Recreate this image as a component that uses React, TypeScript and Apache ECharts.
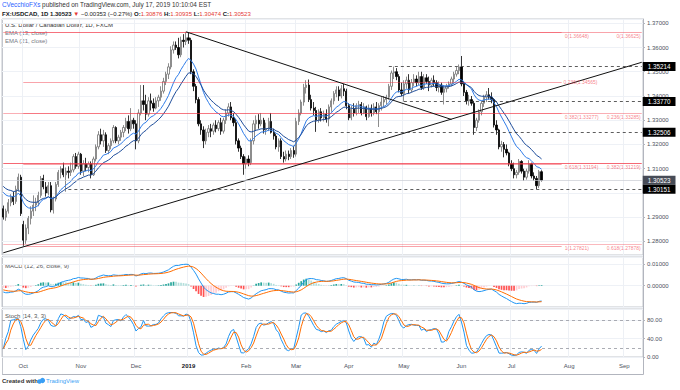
import React, { useEffect, useRef } from "react";
import * as echarts from "echarts";

const FONT = "'Liberation Sans', Arial, sans-serif";

// date, open, high, low, close
const candles: [string, number, number, number, number][] = [
  ["2018-09-19", 1.2935, 1.2948, 1.289, 1.29],
  ["2018-09-20", 1.29, 1.2935, 1.2885, 1.2925],
  ["2018-09-21", 1.2925, 1.2975, 1.2915, 1.296],
  ["2018-09-24", 1.296, 1.2995, 1.2945, 1.2985],
  ["2018-09-25", 1.2985, 1.3005, 1.295, 1.2965],
  ["2018-09-26", 1.2965, 1.303, 1.2955, 1.3015],
  ["2018-09-27", 1.3015, 1.308, 1.3005, 1.3065],
  ["2018-09-28", 1.3065, 1.3075, 1.2905, 1.2915],
  ["2018-10-01", 1.287, 1.2885, 1.27821, 1.2805],
  ["2018-10-02", 1.2805, 1.287, 1.279, 1.2855],
  ["2018-10-03", 1.2855, 1.2905, 1.283, 1.2895],
  ["2018-10-04", 1.2895, 1.2945, 1.287, 1.2925],
  ["2018-10-05", 1.2925, 1.299, 1.2905, 1.295],
  ["2018-10-08", 1.295, 1.298, 1.2925, 1.296],
  ["2018-10-09", 1.296, 1.3005, 1.2945, 1.299],
  ["2018-10-10", 1.299, 1.307, 1.298, 1.306],
  ["2018-10-11", 1.306, 1.3075, 1.3015, 1.3025],
  ["2018-10-12", 1.3025, 1.3045, 1.2985, 1.3],
  ["2018-10-15", 1.3, 1.3045, 1.299, 1.303],
  ["2018-10-16", 1.303, 1.3045, 1.292, 1.293],
  ["2018-10-17", 1.293, 1.2985, 1.2915, 1.2975],
  ["2018-10-18", 1.2975, 1.3045, 1.2965, 1.3035],
  ["2018-10-19", 1.3035, 1.3095, 1.3025, 1.3085],
  ["2018-10-22", 1.3085, 1.311, 1.306, 1.31],
  ["2018-10-23", 1.31, 1.3125, 1.3065, 1.3075],
  ["2018-10-24", 1.3075, 1.3105, 1.3005, 1.309],
  ["2018-10-25", 1.309, 1.311, 1.306, 1.3085],
  ["2018-10-26", 1.3085, 1.3125, 1.307, 1.3095],
  ["2018-10-29", 1.3095, 1.316, 1.3085, 1.315],
  ["2018-10-30", 1.315, 1.3165, 1.31, 1.311],
  ["2018-10-31", 1.311, 1.317, 1.31, 1.316],
  ["2018-11-01", 1.316, 1.3165, 1.3075, 1.309],
  ["2018-11-02", 1.309, 1.3135, 1.307, 1.312],
  ["2018-11-05", 1.312, 1.3145, 1.309, 1.3105],
  ["2018-11-06", 1.3105, 1.313, 1.3085, 1.312],
  ["2018-11-07", 1.312, 1.313, 1.306, 1.3075],
  ["2018-11-08", 1.3075, 1.315, 1.307, 1.314],
  ["2018-11-09", 1.314, 1.32, 1.313, 1.319],
  ["2018-11-12", 1.319, 1.3255, 1.318, 1.324],
  ["2018-11-13", 1.324, 1.3265, 1.32, 1.3215],
  ["2018-11-14", 1.3215, 1.326, 1.319, 1.324],
  ["2018-11-15", 1.324, 1.325, 1.3165, 1.3175],
  ["2018-11-16", 1.3175, 1.3205, 1.316, 1.3195],
  ["2018-11-19", 1.3195, 1.3225, 1.318, 1.3215],
  ["2018-11-20", 1.3215, 1.328, 1.3205, 1.327],
  ["2018-11-21", 1.327, 1.3275, 1.3205, 1.3215],
  ["2018-11-22", 1.3215, 1.324, 1.32, 1.323],
  ["2018-11-23", 1.323, 1.326, 1.3215, 1.325],
  ["2018-11-26", 1.325, 1.328, 1.323, 1.327],
  ["2018-11-27", 1.327, 1.331, 1.3255, 1.3295],
  ["2018-11-28", 1.3295, 1.332, 1.3245, 1.3265],
  ["2018-11-29", 1.3265, 1.335, 1.3255, 1.33],
  ["2018-11-30", 1.33, 1.331, 1.3265, 1.3285],
  ["2018-12-03", 1.3285, 1.33, 1.318, 1.3215],
  ["2018-12-04", 1.3215, 1.3345, 1.3205, 1.333],
  ["2018-12-05", 1.333, 1.3445, 1.332, 1.338],
  ["2018-12-06", 1.338, 1.3445, 1.334, 1.3365],
  ["2018-12-07", 1.3365, 1.3405, 1.33, 1.3325],
  ["2018-12-10", 1.3325, 1.3395, 1.3315, 1.338],
  ["2018-12-11", 1.338, 1.341, 1.334, 1.337],
  ["2018-12-12", 1.337, 1.339, 1.3335, 1.335],
  ["2018-12-13", 1.335, 1.3395, 1.3345, 1.338],
  ["2018-12-14", 1.338, 1.3405, 1.3355, 1.3395],
  ["2018-12-17", 1.3395, 1.344, 1.338, 1.342],
  ["2018-12-18", 1.342, 1.3475, 1.341, 1.346],
  ["2018-12-19", 1.346, 1.35, 1.3445, 1.349],
  ["2018-12-20", 1.349, 1.3535, 1.347, 1.352],
  ["2018-12-21", 1.352, 1.3605, 1.351, 1.359],
  ["2018-12-24", 1.359, 1.3625, 1.3575, 1.361],
  ["2018-12-25", 1.361, 1.3625, 1.359, 1.36],
  ["2018-12-26", 1.36, 1.364, 1.3555, 1.357],
  ["2018-12-27", 1.357, 1.3645, 1.356, 1.363],
  ["2018-12-28", 1.363, 1.3655, 1.36, 1.3625],
  ["2018-12-31", 1.3625, 1.36648, 1.361, 1.364],
  ["2019-01-01", 1.364, 1.366, 1.3615, 1.363],
  ["2019-01-02", 1.363, 1.364, 1.349, 1.35],
  ["2019-01-03", 1.35, 1.351, 1.342, 1.344],
  ["2019-01-04", 1.344, 1.345, 1.337, 1.3385],
  ["2019-01-07", 1.3385, 1.3395, 1.3275, 1.3285],
  ["2019-01-08", 1.3285, 1.33, 1.324, 1.326],
  ["2019-01-09", 1.326, 1.3275, 1.3185, 1.3215],
  ["2019-01-10", 1.3215, 1.3265, 1.32, 1.325],
  ["2019-01-11", 1.325, 1.328, 1.323, 1.3265],
  ["2019-01-14", 1.3265, 1.3285, 1.323, 1.3255],
  ["2019-01-15", 1.3255, 1.329, 1.324, 1.328],
  ["2019-01-16", 1.328, 1.33, 1.325, 1.3265],
  ["2019-01-17", 1.3265, 1.33, 1.3255, 1.329],
  ["2019-01-18", 1.329, 1.331, 1.324, 1.3255],
  ["2019-01-21", 1.3255, 1.331, 1.3245, 1.33],
  ["2019-01-22", 1.33, 1.3345, 1.3285, 1.333],
  ["2019-01-23", 1.333, 1.337, 1.3315, 1.3355],
  ["2019-01-24", 1.3355, 1.3375, 1.33, 1.331],
  ["2019-01-25", 1.331, 1.333, 1.3275, 1.329],
  ["2019-01-28", 1.329, 1.3305, 1.32, 1.3215],
  ["2019-01-29", 1.3215, 1.3225, 1.317, 1.3185],
  ["2019-01-30", 1.3185, 1.3195, 1.314, 1.315],
  ["2019-01-31", 1.315, 1.316, 1.3075, 1.312],
  ["2019-02-01", 1.312, 1.315, 1.31, 1.314],
  ["2019-02-04", 1.314, 1.3155, 1.311, 1.3125],
  ["2019-02-05", 1.3125, 1.3225, 1.3115, 1.3215],
  ["2019-02-06", 1.3215, 1.33, 1.32, 1.3285],
  ["2019-02-07", 1.3285, 1.332, 1.3255, 1.33],
  ["2019-02-08", 1.33, 1.3325, 1.3265, 1.3285],
  ["2019-02-11", 1.3285, 1.333, 1.3275, 1.33],
  ["2019-02-12", 1.33, 1.331, 1.3245, 1.326],
  ["2019-02-13", 1.326, 1.329, 1.324, 1.3265],
  ["2019-02-14", 1.3265, 1.331, 1.3255, 1.3295],
  ["2019-02-15", 1.3295, 1.333, 1.3245, 1.325],
  ["2019-02-18", 1.325, 1.3265, 1.322, 1.3235],
  ["2019-02-19", 1.3235, 1.3245, 1.318, 1.319],
  ["2019-02-20", 1.319, 1.3225, 1.317, 1.3215],
  ["2019-02-21", 1.3215, 1.3225, 1.314, 1.315],
  ["2019-02-22", 1.315, 1.317, 1.3125, 1.314],
  ["2019-02-25", 1.314, 1.3175, 1.313, 1.316],
  ["2019-02-26", 1.316, 1.3175, 1.3135, 1.315],
  ["2019-02-27", 1.315, 1.3185, 1.314, 1.3175],
  ["2019-02-28", 1.3175, 1.3195, 1.3145, 1.316],
  ["2019-03-01", 1.316, 1.331, 1.315, 1.3295],
  ["2019-03-04", 1.3295, 1.3345, 1.328, 1.333],
  ["2019-03-05", 1.333, 1.3385, 1.332, 1.3375],
  ["2019-03-06", 1.3375, 1.345, 1.336, 1.3435],
  ["2019-03-07", 1.3435, 1.3465, 1.341, 1.3445],
  ["2019-03-08", 1.3445, 1.3468, 1.3375, 1.3385],
  ["2019-03-11", 1.3385, 1.3405, 1.334, 1.335],
  ["2019-03-12", 1.335, 1.3375, 1.332, 1.334],
  ["2019-03-13", 1.334, 1.3355, 1.3252, 1.33],
  ["2019-03-14", 1.33, 1.3345, 1.329, 1.3335],
  ["2019-03-15", 1.3335, 1.335, 1.3295, 1.331],
  ["2019-03-18", 1.331, 1.334, 1.3295, 1.3325],
  ["2019-03-19", 1.3325, 1.3345, 1.329, 1.3305],
  ["2019-03-20", 1.3305, 1.3365, 1.3275, 1.3355],
  ["2019-03-21", 1.3355, 1.339, 1.3335, 1.338],
  ["2019-03-22", 1.338, 1.342, 1.3365, 1.341],
  ["2019-03-25", 1.341, 1.344, 1.3395, 1.3425],
  ["2019-03-26", 1.3425, 1.344, 1.338, 1.34],
  ["2019-03-27", 1.34, 1.3445, 1.339, 1.343],
  ["2019-03-28", 1.343, 1.345, 1.34, 1.342],
  ["2019-03-29", 1.342, 1.343, 1.3345, 1.336],
  ["2019-04-01", 1.336, 1.337, 1.33, 1.331],
  ["2019-04-02", 1.331, 1.336, 1.33, 1.3345],
  ["2019-04-03", 1.3345, 1.337, 1.3315, 1.333],
  ["2019-04-04", 1.333, 1.337, 1.332, 1.336],
  ["2019-04-05", 1.336, 1.338, 1.333, 1.3365],
  ["2019-04-08", 1.3365, 1.3375, 1.332, 1.333],
  ["2019-04-09", 1.333, 1.337, 1.3325, 1.3355],
  ["2019-04-10", 1.3355, 1.336, 1.33, 1.3315],
  ["2019-04-11", 1.3315, 1.3365, 1.331, 1.335],
  ["2019-04-12", 1.335, 1.3365, 1.3315, 1.333],
  ["2019-04-15", 1.333, 1.337, 1.332, 1.3355],
  ["2019-04-16", 1.3355, 1.3375, 1.3325, 1.3335],
  ["2019-04-17", 1.3335, 1.337, 1.3272, 1.336],
  ["2019-04-18", 1.336, 1.3395, 1.334, 1.3375],
  ["2019-04-19", 1.3375, 1.34, 1.3355, 1.3385],
  ["2019-04-22", 1.3385, 1.3405, 1.3365, 1.3395],
  ["2019-04-23", 1.3395, 1.345, 1.3385, 1.344],
  ["2019-04-24", 1.344, 1.3505, 1.3425, 1.3495],
  ["2019-04-25", 1.3495, 1.35214, 1.347, 1.35],
  ["2019-04-26", 1.35, 1.3515, 1.3465, 1.348],
  ["2019-04-29", 1.348, 1.349, 1.3415, 1.3425],
  ["2019-04-30", 1.3425, 1.3455, 1.34, 1.341],
  ["2019-05-01", 1.341, 1.3465, 1.3377, 1.345],
  ["2019-05-02", 1.345, 1.348, 1.343, 1.3465],
  ["2019-05-03", 1.3465, 1.349, 1.341, 1.3425],
  ["2019-05-06", 1.3425, 1.347, 1.3415, 1.3455],
  ["2019-05-07", 1.3455, 1.349, 1.344, 1.347],
  ["2019-05-08", 1.347, 1.3485, 1.344, 1.3455],
  ["2019-05-09", 1.3455, 1.35, 1.3445, 1.348],
  ["2019-05-10", 1.348, 1.35, 1.3425, 1.3435],
  ["2019-05-13", 1.3435, 1.349, 1.3425, 1.3475],
  ["2019-05-14", 1.3475, 1.349, 1.345, 1.346],
  ["2019-05-15", 1.346, 1.348, 1.342, 1.3445],
  ["2019-05-16", 1.3445, 1.3475, 1.3435, 1.3465],
  ["2019-05-17", 1.3465, 1.3485, 1.344, 1.3455],
  ["2019-05-20", 1.3455, 1.3465, 1.342, 1.3435],
  ["2019-05-21", 1.3435, 1.346, 1.3415, 1.3445],
  ["2019-05-22", 1.3445, 1.3455, 1.3405, 1.3415],
  ["2019-05-23", 1.3415, 1.3445, 1.3365, 1.343],
  ["2019-05-24", 1.343, 1.345, 1.3415, 1.344],
  ["2019-05-27", 1.344, 1.346, 1.343, 1.345],
  ["2019-05-28", 1.345, 1.348, 1.344, 1.347],
  ["2019-05-29", 1.347, 1.35, 1.3455, 1.349],
  ["2019-05-30", 1.349, 1.352, 1.348, 1.3505],
  ["2019-05-31", 1.3505, 1.353, 1.349, 1.352],
  ["2019-06-03", 1.352, 1.3565, 1.344, 1.345],
  ["2019-06-04", 1.345, 1.346, 1.34, 1.3415],
  ["2019-06-05", 1.3415, 1.3425, 1.3365, 1.338],
  ["2019-06-06", 1.338, 1.3405, 1.336, 1.3385],
  ["2019-06-07", 1.3385, 1.34, 1.336, 1.337],
  ["2019-06-10", 1.337, 1.338, 1.324, 1.327],
  ["2019-06-11", 1.327, 1.331, 1.3255, 1.33],
  ["2019-06-12", 1.33, 1.3345, 1.329, 1.3335],
  ["2019-06-13", 1.3335, 1.338, 1.332, 1.337],
  ["2019-06-14", 1.337, 1.3405, 1.3355, 1.3395],
  ["2019-06-17", 1.3395, 1.342, 1.3375, 1.3405],
  ["2019-06-18", 1.3405, 1.3433, 1.3385, 1.3395],
  ["2019-06-19", 1.3395, 1.3415, 1.337, 1.3385],
  ["2019-06-20", 1.3385, 1.339, 1.327, 1.328],
  ["2019-06-21", 1.328, 1.33, 1.324, 1.326],
  ["2019-06-24", 1.326, 1.3265, 1.318, 1.319],
  ["2019-06-25", 1.319, 1.3215, 1.317, 1.32],
  ["2019-06-26", 1.32, 1.321, 1.3147, 1.318],
  ["2019-06-27", 1.318, 1.32, 1.3155, 1.3165],
  ["2019-06-28", 1.3165, 1.317, 1.311, 1.312],
  ["2019-07-01", 1.312, 1.3135, 1.309, 1.31],
  ["2019-07-02", 1.31, 1.3125, 1.306, 1.3075],
  ["2019-07-03", 1.3075, 1.3095, 1.306, 1.3085],
  ["2019-07-04", 1.3085, 1.314, 1.3075, 1.313],
  ["2019-07-05", 1.313, 1.3135, 1.308, 1.309],
  ["2019-07-08", 1.309, 1.31, 1.305, 1.3065],
  ["2019-07-09", 1.3065, 1.31, 1.3055, 1.309],
  ["2019-07-10", 1.309, 1.3135, 1.308, 1.312],
  ["2019-07-11", 1.312, 1.3125, 1.306, 1.307],
  ["2019-07-12", 1.307, 1.3085, 1.305, 1.306],
  ["2019-07-15", 1.306, 1.307, 1.30151, 1.303],
  ["2019-07-16", 1.303, 1.3095, 1.302, 1.30876],
  ["2019-07-17", 1.30876, 1.30935, 1.30474, 1.30523],
];

const axisStart = "2018-09-19";
const axisEnd = "2019-09-11";
const monthStarts = ["2018-10-01", "2018-11-01", "2018-12-03", "2019-01-01", "2019-02-01", "2019-03-01", "2019-04-01", "2019-05-01", "2019-06-03", "2019-07-01", "2019-08-01", "2019-09-02"];
const monthLabels = ["Oct", "Nov", "Dec", "2019", "Feb", "Mar", "Apr", "May", "Jun", "Jul", "Aug", "Sep"];

const ema13Seed = 1.302;
const ema21Seed = 1.304;
const macdFastSeed = 1.3015;
const macdSlowSeed = 1.3037;
const macdSignalSeed = -0.0017;

const levelPrices = [1.35214, 1.3377, 1.32506, 1.30151];
const levelStarts = ["2019-04-23", "2019-05-01", "2019-03-20", "2018-10-25"];
const lastClose = 1.30523;

const fibAPrices = [1.36648, 1.34565, 1.33277, 1.31194, 1.27821];
const fibALabels = ["0(1.36648)", "0.236(1.34565)", "0.382(1.33277)", "0.618(1.31194)", "1(1.27821)"];
const fibARange = ["2018-10-01", "2019-07-29"];
const fibBPrices = [1.36625, 1.33285, 1.31219, 1.27878];
const fibBLabels = ["0(1.36625)", "0.236(1.33285)", "0.382(1.31219)", "0.618(1.27878)"];
const fibBPairLabels = ["0(1.36648)", "0.382(1.33277)", "0.618(1.31194)", "1(1.27821)"];
const fibBAlpha = [0.45, 0.4, 0.75, 0.35];
const fibBRange = ["2018-09-19", "2019-09-11"];

const trendUpDates = ["2018-09-19", "2019-09-11"];
const trendUpPrices = [1.2753, 1.3539];
const trendDownDates = ["2018-12-31", "2019-05-28"];
const trendDownPrices = [1.36648, 1.3303];
const stochLevels = [80, 20];

function weekdays(start: string, end: string): string[] {
  const out: string[] = [];
  const d = new Date(start + "T00:00:00Z");
  const e = new Date(end + "T00:00:00Z");
  while (d <= e) {
    const w = d.getUTCDay();
    if (w !== 0 && w !== 6) out.push(d.toISOString().slice(0, 10));
    d.setUTCDate(d.getUTCDate() + 1);
  }
  return out;
}

function ema(values: number[], n: number, seed: number): number[] {
  const k = 2 / (n + 1);
  let e = seed;
  return values.map((v) => (e = e + k * (v - e)));
}

function sma(values: number[], n: number): number[] {
  return values.map((_, i) => {
    const s = values.slice(Math.max(0, i - n + 1), i + 1);
    return s.reduce((a, b) => a + b, 0) / s.length;
  });
}

export default function App() {
  const ref = useRef<HTMLDivElement>(null);

  useEffect(() => {
    if (!ref.current) return;
    const chart = echarts.init(ref.current, undefined, { renderer: "svg" });

    const categories = weekdays(axisStart, axisEnd);
    const idx = (d: string) => categories.indexOf(d);
    const candleData: any[] = categories.map(() => "-");
    candles.forEach((r) => {
      candleData[idx(r[0])] = [r[1], r[4], r[3], r[2]];
    });
    const lastIdx = idx(candles[candles.length - 1][0]);
    const used = candleData.slice(0, lastIdx + 1);

    const closes = candles.map((r) => r[4]);
    const ema13 = ema(closes, 13, ema13Seed);
    const ema21 = ema(closes, 21, ema21Seed);
    const fast = ema(closes, 12, macdFastSeed);
    const slow = ema(closes, 26, macdSlowSeed);
    const macd = fast.map((v, i) => v - slow[i]);
    const signal = ema(macd, 9, macdSignalSeed);
    const hist = macd.map((v, i) => v - signal[i]);
    const histData = hist.map((h, i) => {
      const prev = i > 0 ? hist[i - 1] : h;
      const color = h >= 0 ? (h >= prev ? "#26a69a" : "#b2dfdb") : h < prev ? "#ff5252" : "#ffcdd2";
      return { value: h, itemStyle: { color } };
    });
    const raw = candles.map((r, i) => {
      const w = candles.slice(Math.max(0, i - 13), i + 1);
      const hh = Math.max(...w.map((x) => x[2]));
      const ll = Math.min(...w.map((x) => x[3]));
      return hh === ll ? 50 : (100 * (r[4] - ll)) / (hh - ll);
    });
    const stochK = sma(raw, 3);
    const stochD = sma(stochK, 3);

    const isMonth = (_i: number, v: string) => monthStarts.indexOf(v) >= 0;
    const fibTxt = "rgba(242,54,69,0.65)";
    const endI = idx(axisEnd);
    const boxPrices = levelPrices.concat([lastClose]);

    const boxLabel = (text: string, bg: string) => ({
      show: true,
      position: "end",
      distance: 1,
      formatter: text,
      backgroundColor: bg,
      color: "#fff",
      fontSize: 6.3,
      lineHeight: 7,
      padding: [1, 5],
      fontFamily: FONT,
    });

    const markData: any[] = [];
    fibAPrices.forEach((p, k) => {
      markData.push([
        {
          coord: [idx(fibARange[0]), p],
          lineStyle: { color: "rgba(242,54,69,0.45)", width: 1, type: "solid" },
          label:
            k === 1
              ? { show: true, position: "end", distance: 2, formatter: fibALabels[k], color: fibTxt, fontSize: 5, padding: [5, 0, 0, 0], fontFamily: FONT }
              : { show: false },
        },
        { coord: [idx(fibARange[1]), p] },
      ]);
    });
    fibBPrices.forEach((p, k) => {
      markData.push([
        {
          coord: [idx(fibBRange[0]), p],
          lineStyle: { color: `rgba(242,54,69,${fibBAlpha[k]})`, width: 1, type: "solid" },
          label: {
            show: true,
            position: "insideEndBottom",
            distance: 1,
            formatter: `{a|${fibBPairLabels[k]}}{b|${fibBLabels[k]}}`,
            rich: {
              a: { width: 47, align: "left", fontSize: 5, color: fibTxt, fontFamily: FONT },
              b: { width: 29, align: "right", fontSize: 5, color: fibTxt, fontFamily: FONT },
            },
          },
        },
        { coord: [idx(fibBRange[1]), p] },
      ]);
    });
    markData.push([
      { coord: [idx(trendUpDates[0]), trendUpPrices[0]], lineStyle: { color: "#111", width: 1, type: "solid" }, label: { show: false } },
      { coord: [idx(trendUpDates[1]), trendUpPrices[1]] },
    ]);
    markData.push([
      { coord: [idx(trendDownDates[0]), trendDownPrices[0]], lineStyle: { color: "#111", width: 1, type: "solid" }, label: { show: false } },
      { coord: [idx(trendDownDates[1]), trendDownPrices[1]] },
    ]);
    markData.push([
      { coord: [0, lastClose], lineStyle: { color: "#c9ccd3", width: 0.7, type: "solid" }, label: boxLabel(lastClose.toFixed(5), "#474c57") },
      { coord: [endI, lastClose] },
    ]);
    levelPrices.forEach((p, k) => {
      markData.push([
        { coord: [idx(levelStarts[k]), p], lineStyle: { color: "#333", width: 0.8, type: [3, 3] }, label: boxLabel(p.toFixed(5), "#000") },
        { coord: [endI, p] },
      ]);
    });

    const axisLabelBase = { fontSize: 6, color: "#4c525e", fontFamily: FONT };
    const yCommon = {
      position: "right",
      axisLine: { show: true, lineStyle: { color: "#b2b5be" } },
      axisTick: { show: true, length: 2, lineStyle: { color: "#b2b5be" } },
      splitLine: { show: true, lineStyle: { color: "#eef1f6" } },
    };

    const option: any = {
      animation: false,
      textStyle: { fontFamily: FONT },
      grid: [
        { left: 2, right: 37, top: 19, height: 236, show: true, borderColor: "#c3c6cd", borderWidth: 1 },
        { left: 2, right: 37, top: 257, height: 50, show: true, borderColor: "#c3c6cd", borderWidth: 1 },
        { left: 2, right: 37, top: 309, height: 48, show: true, borderColor: "#c3c6cd", borderWidth: 1 },
      ],
      xAxis: [0, 1, 2].map((g) => ({
        type: "category",
        gridIndex: g,
        data: categories,
        boundaryGap: true,
        axisLine: { show: false },
        axisTick: { show: false },
        axisLabel: {
          show: g === 2,
          interval: isMonth,
          margin: 6,
          ...axisLabelBase,
          formatter: (v: string) => {
            const t = monthLabels[monthStarts.indexOf(v)] || "";
            return t === "2019" ? "{y|2019}" : t;
          },
          rich: { y: { fontWeight: "bold", fontSize: 6, color: "#131722", fontFamily: FONT } },
        },
        splitLine: { show: true, interval: isMonth, lineStyle: { color: "#edf0f5" } },
      })),
      yAxis: [
        {
          ...yCommon,
          gridIndex: 0,
          min: 1.2744,
          max: 1.37176,
          splitNumber: 10,
          axisLabel: {
            ...axisLabelBase,
            margin: 4,
            showMinLabel: false,
            showMaxLabel: false,
            formatter: (v: number) => (boxPrices.some((b) => Math.abs(b - v) < 0.0018) ? "" : v.toFixed(5)),
          },
        },
        {
          ...yCommon,
          gridIndex: 1,
          min: -0.01,
          max: 0.0135,
          interval: 0.01,
          axisLabel: { ...axisLabelBase, margin: 4, showMinLabel: false, showMaxLabel: false, formatter: (v: number) => v.toFixed(5) },
        },
        {
          ...yCommon,
          gridIndex: 2,
          min: 0,
          max: 103.8,
          interval: 40,
          axisLabel: { ...axisLabelBase, margin: 4, showMaxLabel: false, formatter: (v: number) => v.toFixed(2) },
        },
      ],
      series: [
        {
          type: "candlestick",
          xAxisIndex: 0,
          yAxisIndex: 0,
          data: used,
          barWidth: 1.8,
          itemStyle: { color: "#ffffff", color0: "#000000", borderColor: "#707070", borderColor0: "#000000", borderWidth: 0.8 },
          markLine: { silent: true, symbol: ["none", "none"], animation: false, data: markData },
        },
        { type: "line", xAxisIndex: 0, yAxisIndex: 0, data: ema13, symbol: "none", z: 3, lineStyle: { color: "#2f7ce8", width: 1 } },
        { type: "line", xAxisIndex: 0, yAxisIndex: 0, data: ema21, symbol: "none", z: 3, lineStyle: { color: "#1d4c9a", width: 1 } },
        { type: "bar", xAxisIndex: 1, yAxisIndex: 1, data: histData, barWidth: 1.7 },
        { type: "line", xAxisIndex: 1, yAxisIndex: 1, data: macd, symbol: "none", lineStyle: { color: "#2196f3", width: 1 } },
        { type: "line", xAxisIndex: 1, yAxisIndex: 1, data: signal, symbol: "none", lineStyle: { color: "#ff6d00", width: 1 } },
        {
          type: "line",
          xAxisIndex: 2,
          yAxisIndex: 2,
          data: stochK,
          symbol: "none",
          lineStyle: { color: "#2196f3", width: 1 },
          markLine: {
            silent: true,
            symbol: ["none", "none"],
            label: { show: false },
            lineStyle: { color: "#9598a1", type: [3, 3], width: 0.8 },
            data: stochLevels.map((v) => ({ yAxis: v })),
          },
        },
        { type: "line", xAxisIndex: 2, yAxisIndex: 2, data: stochD, symbol: "none", lineStyle: { color: "#ff6d00", width: 1 } },
      ],
      graphic: [
        {
          type: "text",
          x: 2,
          y: 1.5,
          style: {
            text: "{u|CVecchioFXs} published on TradingView.com, July 17, 2019 10:10:04 EST",
            fontSize: 6.4,
            fill: "#333",
            fontFamily: FONT,
            rich: { u: { fill: "#2962ff", fontSize: 6.4, fontFamily: FONT } },
          },
        },
        {
          type: "text",
          x: 2,
          y: 10.5,
          style: {
            text: "{b|FX:USDCAD, 1D} {b|1.30523} {r|▼} −0.00353 (−0.27%) {b|O:}{r|1.30876} {b|H:}{r|1.30935} {b|L:}{r|1.30474} {b|C:}{r|1.30523}",
            fontSize: 6,
            fill: "#222",
            fontFamily: FONT,
            rich: {
              b: { fontWeight: "bold", fill: "#131722", fontSize: 6, fontFamily: FONT },
              r: { fill: "#e53935", fontSize: 6, fontFamily: FONT },
            },
          },
        },
        { type: "text", x: 5, y: 22, style: { text: "U.S. Dollar / Canadian Dollar, 1D, FXCM", fontSize: 6, fill: "#333", fontFamily: FONT } },
        { type: "text", x: 5, y: 30, style: { text: "EMA (13, close)", fontSize: 6, fill: "#787b86", fontFamily: FONT } },
        { type: "text", x: 5, y: 37.5, style: { text: "EMA (21, close)", fontSize: 6, fill: "#787b86", fontFamily: FONT } },
        { type: "text", x: 5, y: 262.5, style: { text: "MACD (12, 26, close, 9)", fontSize: 6, fill: "#555", fontFamily: FONT } },
        { type: "text", x: 5, y: 312.5, style: { text: "Stoch (14, 3, 3)", fontSize: 6, fill: "#555", fontFamily: FONT } },
        { type: "line", shape: { x1: 643.5, y1: 19, x2: 643.5, y2: 374.5 }, style: { stroke: "#b2b5be", lineWidth: 1 } },
        { type: "line", shape: { x1: 2, y1: 374.5, x2: 643.5, y2: 374.5 }, style: { stroke: "#b2b5be", lineWidth: 1 } },
        { type: "line", shape: { x1: 2.5, y1: 19, x2: 2.5, y2: 374.5 }, style: { stroke: "#c3c6cd", lineWidth: 1 } },
        { type: "text", x: 2, y: 378, style: { text: "Created with", fontSize: 6, fontWeight: "bold", fill: "#333", fontFamily: FONT } },
        { type: "circle", shape: { cx: 39.5, cy: 381.5, r: 2.2 }, style: { fill: "#3a9ff5" } },
        { type: "circle", shape: { cx: 42.5, cy: 380.5, r: 2.6 }, style: { fill: "#3a9ff5" } },
        { type: "text", x: 46, y: 378, style: { text: "TradingView", fontSize: 6, fill: "#3a9ff5", fontFamily: FONT } },
      ],
    };

    chart.setOption(option);
    return () => chart.dispose();
  }, []);

  return <div ref={ref} style={{ position: "fixed", left: 0, top: 0, width: 680, height: 390, background: "#fff" }} />;
}
